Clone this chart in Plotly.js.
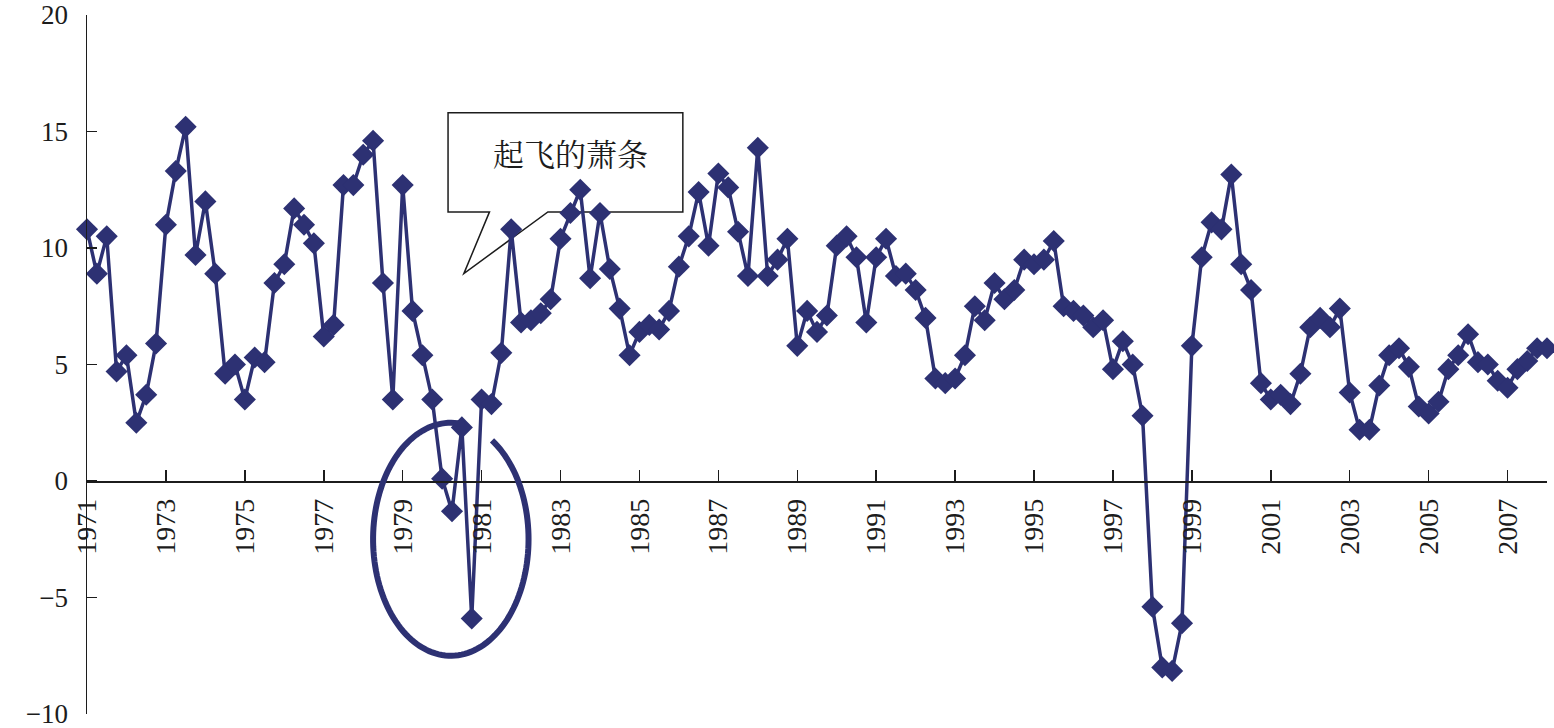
<!DOCTYPE html>
<html>
<head>
<meta charset="utf-8">
<script src="https://cdn.plot.ly/plotly-3.0.1.min.js"></script>
<style>
  html, body { margin: 0; padding: 0; background: #ffffff; }
  #chart { width: 1554px; height: 728px; }
</style>
</head>
<body>
<div id="chart"></div>
<script>
// Quarterly series, 1971Q1 .. 2008Q1
const startYear = 1971;
const growth = [
  10.8, 8.9, 10.5, 4.7,     // 1971
  5.4, 2.5, 3.7, 5.9,       // 1972
  11.0, 13.3, 15.2, 9.7,    // 1973
  12.0, 8.9, 4.6, 5.0,      // 1974
  3.5, 5.3, 5.1, 8.5,       // 1975
  9.3, 11.7, 11.0, 10.2,    // 1976
  6.2, 6.7, 12.7, 12.7,     // 1977
  14.0, 14.6, 8.5, 3.5,     // 1978
  12.7, 7.3, 5.4, 3.5,      // 1979
  0.1, -1.3, 2.3, -5.9,     // 1980
  3.5, 3.3, 5.5, 10.8,      // 1981
  6.8, 6.9, 7.2, 7.8,       // 1982
  10.4, 11.5, 12.5, 8.7,    // 1983
  11.5, 9.1, 7.4, 5.4,      // 1984
  6.4, 6.7, 6.5, 7.3,       // 1985
  9.2, 10.5, 12.4, 10.1,    // 1986
  13.2, 12.6, 10.7, 8.8,    // 1987
  14.3, 8.8, 9.5, 10.4,     // 1988
  5.8, 7.3, 6.4, 7.1,       // 1989
  10.1, 10.5, 9.6, 6.8,     // 1990
  9.6, 10.4, 8.8, 8.9,      // 1991
  8.2, 7.0, 4.4, 4.2,       // 1992
  4.4, 5.4, 7.5, 6.9,       // 1993
  8.5, 7.8, 8.2, 9.5,       // 1994
  9.3, 9.5, 10.3, 7.5,      // 1995
  7.3, 7.1, 6.6, 6.9,       // 1996
  4.8, 6.0, 5.0, 2.8,       // 1997
  -5.4, -8.0, -8.15, -6.1,  // 1998
  5.8, 9.6, 11.1, 10.8,     // 1999
  13.15, 9.3, 8.2, 4.2,     // 2000
  3.5, 3.7, 3.3, 4.6,       // 2001
  6.6, 7.0, 6.6, 7.4,       // 2002
  3.8, 2.2, 2.2, 4.1,       // 2003
  5.4, 5.7, 4.9, 3.2,       // 2004
  2.9, 3.4, 4.8, 5.4,       // 2005
  6.3, 5.1, 5.0, 4.3,       // 2006
  4.0, 4.8, 5.15, 5.7,      // 2007
  5.7                       // 2008Q1
];
const tickYears = [1971, 1973, 1975, 1977, 1979, 1981, 1983, 1985, 1987, 1989,
                   1991, 1993, 1995, 1997, 1999, 2001, 2003, 2005, 2007];
const tickLabels = tickYears.map(String);
const yTicks = [-10, -5, 0, 5, 10, 15, 20];
const yTickLabels = ['\u221210', '\u22125', '0', '5', '10', '15', '20'];
const annotationText = '起飞的萧条';

const xPos = growth.map((_, i) => startYear + i / 4);

const navy = '#2d3173';
const ink = '#1c1c1c';
const serif = 'Liberation Serif, Times New Roman, serif';

// open ellipse (circle annotation around the 1980 recession)
const ell = {cx: 1980.22, cy: -2.5, a: 1.97, b: 5.0};
let ellPath = '';
const tStart = 80, tEnd = 418; // degrees, leaves a gap at upper right
for (let k = 0; k <= 140; k++) {
  const t = (tStart + (tEnd - tStart) * k / 140) * Math.PI / 180;
  const px = ell.cx + ell.a * Math.cos(t);
  const py = ell.cy + ell.b * Math.sin(t);
  ellPath += (k === 0 ? 'M ' : ' L ') + px.toFixed(4) + ',' + py.toFixed(4);
}

// callout box with pointer
const box = {x0: 1980.15, x1: 1986.1, yTop: 15.8, yBot: 11.55,
             p1: 1981.2, p2: 1982.68, tipX: 1980.55, tipY: 8.9};
const boxPath = `M ${box.x0},${box.yTop} L ${box.x1},${box.yTop} L ${box.x1},${box.yBot} ` +
                `L ${box.p2},${box.yBot} L ${box.tipX},${box.tipY} L ${box.p1},${box.yBot} ` +
                `L ${box.x0},${box.yBot} Z`;

const trace = {
  x: xPos,
  y: growth,
  type: 'scatter',
  mode: 'lines+markers',
  line: {color: navy, width: 3.5},
  marker: {symbol: 'diamond', size: 17, color: navy, line: {width: 0}},
  cliponaxis: false,
  hoverinfo: 'x+y'
};

const layout = {
  width: 1554,
  height: 728,
  margin: {l: 87, r: 7, t: 15, b: 14},
  paper_bgcolor: '#ffffff',
  plot_bgcolor: '#ffffff',
  showlegend: false,
  xaxis: {
    type: 'linear',
    range: [1971, 2008],
    anchor: 'free',
    position: 1 / 3,
    showgrid: false,
    zeroline: false,
    showline: true,
    linecolor: ink,
    linewidth: 1.5,
    ticks: 'inside',
    ticklen: 11,
    tickwidth: 1.5,
    tickcolor: ink,
    tickvals: tickYears,
    ticktext: tickLabels,
    tickangle: -90,
    ticklabelstandoff: 5,
    ticklabeloverflow: 'allow',
    tickfont: {family: serif, size: 28, color: ink}
  },
  yaxis: {
    range: [-10, 20],
    showgrid: false,
    zeroline: false,
    showline: true,
    linecolor: ink,
    linewidth: 1.5,
    ticks: 'inside',
    ticklen: 10,
    tickwidth: 1.5,
    tickcolor: ink,
    tickvals: yTicks,
    ticktext: yTickLabels,
    ticklabelstandoff: 12,
    ticklabeloverflow: 'allow',
    tickfont: {family: serif, size: 27, color: ink}
  },
  shapes: [
    {type: 'path', xref: 'x', yref: 'y', path: boxPath, layer: 'below',
     fillcolor: '#ffffff', line: {color: ink, width: 1.5}},
    {type: 'path', xref: 'x', yref: 'y', path: ellPath, layer: 'above',
     line: {color: navy, width: 6}}
  ],
  annotations: [
    {x: 1983.25, y: 14.1, xref: 'x', yref: 'y', text: annotationText,
     showarrow: false,
     font: {family: 'Noto Serif CJK SC, Noto Sans CJK SC, sans-serif', size: 31, color: ink}}
  ]
};

Plotly.newPlot('chart', [trace], layout, {displayModeBar: false, staticPlot: true});
</script>
</body>
</html>
